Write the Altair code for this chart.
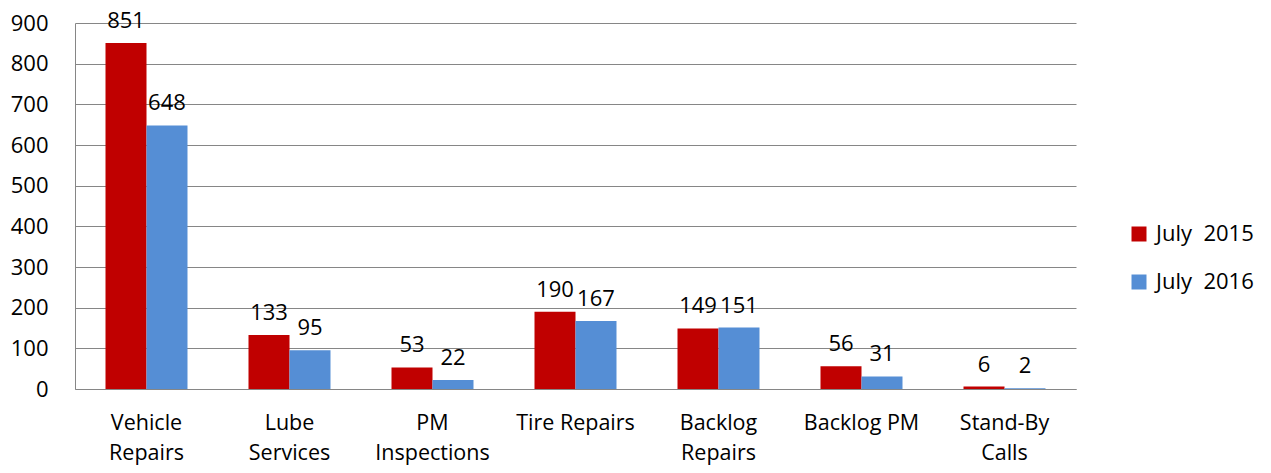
import altair as alt
import pandas as pd

categories = ["Vehicle Repairs", "Lube Services", "PM Inspections", "Tire Repairs",
              "Backlog Repairs", "Backlog PM", "Stand-By Calls"]
label_lines = ["Vehicle|Repairs", "Lube|Services", "PM|Inspections", "Tire Repairs",
               "Backlog|Repairs", "Backlog PM", "Stand-By|Calls"]
series = ["July\u00a0 2015", "July\u00a0 2016"]
values_2015 = [851, 133, 53, 190, 149, 56, 6]
values_2016 = [648, 95, 22, 167, 151, 31, 2]
colors = ["#C00000", "#558ED5"]

rows = []
for c, l, a, b in zip(categories, label_lines, values_2015, values_2016):
    rows.append({"cat": l, "series": series[0], "value": a})
    rows.append({"cat": l, "series": series[1], "value": b})
df = pd.DataFrame(rows)

FONT = "Open Sans"
FS = 22
x = alt.X("cat:N", sort=label_lines, title=None,
          scale=alt.Scale(paddingInner=0.4266, paddingOuter=0.2133),
          axis=alt.Axis(labelExpr="split(datum.label, '|')", labelAngle=0,
                        labelFontSize=21.5, labelFont=FONT, labelColor="#000000",
                        labelPadding=23, labelLineHeight=30, ticks=False,
                        domainColor="#868686", labelBaseline="top"))
y = alt.Y("value:Q", title=None,
          scale=alt.Scale(domain=[0, 900], nice=False),
          axis=alt.Axis(values=list(range(0, 901, 100)), labelFontSize=FS,
                        labelFont=FONT, labelColor="#000000", ticks=False,
                        labelPadding=27, gridColor="#868686", domainColor="#868686",
                        grid=True))

base = alt.Chart(df).encode(x=x, xOffset=alt.XOffset("series:N", sort=series))

bars = base.mark_bar().encode(
    y=y,
    color=alt.Color("series:N", sort=series,
                    scale=alt.Scale(domain=series, range=colors),
                    legend=alt.Legend(title=None, orient="none", legendX=1053, legendY=200,
                                      symbolType="square", symbolSize=225,
                                      symbolStrokeWidth=0, labelFontSize=FS,
                                      labelFont=FONT, labelColor="#000000",
                                      rowPadding=26, labelOffset=6)),
)

labels = base.mark_text(baseline="middle", dy=-22, fontSize=FS, font=FONT,
                        color="#000000").encode(
    y=alt.Y("value:Q"),
    text=alt.Text("value:Q"),
)

chart = (bars + labels).properties(
    width=1001, height=366,
    autosize=alt.AutoSizeParams(type="none"),
    padding={"left": 67, "top": 15, "right": 187, "bottom": 76},
).configure_view(stroke=None)

chart.save("out.html", embed_options={"renderer": "svg", "actions": False})
